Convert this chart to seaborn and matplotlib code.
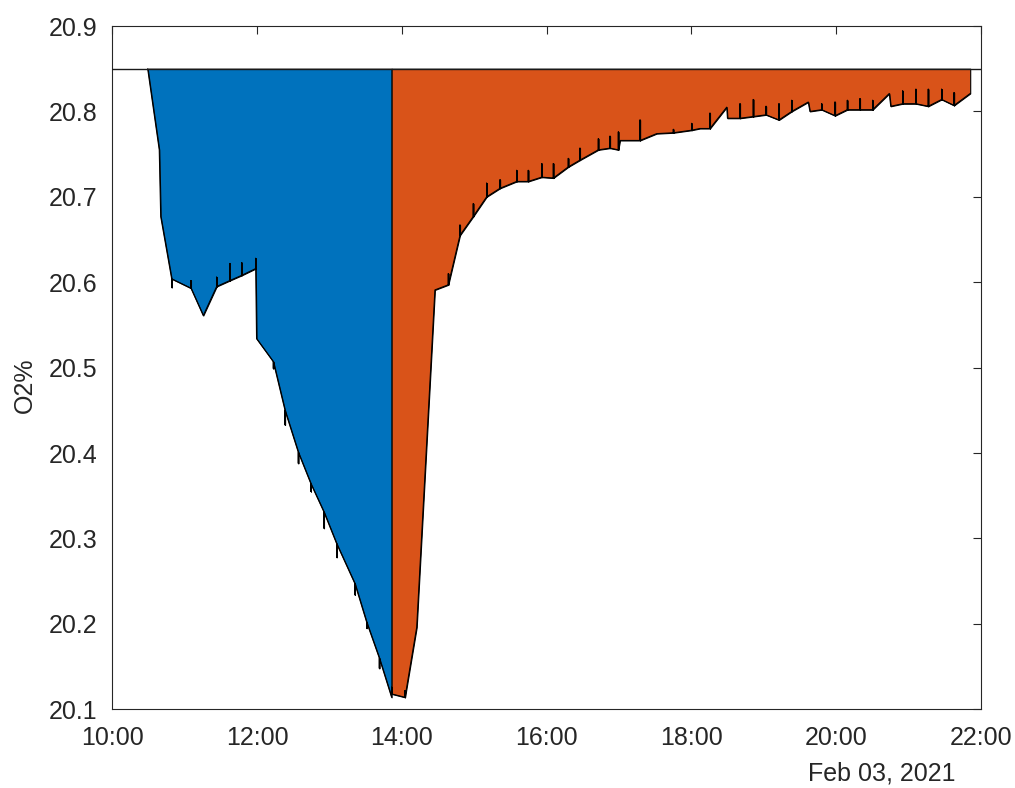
import numpy as np
import pandas as pd
import matplotlib
matplotlib.use("Agg")
import matplotlib.pyplot as plt
import matplotlib.dates as mdates
import seaborn as sns

# O2 readings, Feb 03 2021
DAY = "2021-02-03"
BASE_VALUE = 20.85

# first run (blue)
blue_times = ["10:29:12", "10:38:48", "10:40:00", "10:49:06", "11:05:06", "11:15:18",
              "11:26:24", "11:37:24", "11:47:06", "11:58:48", "11:59:30", "12:13:24",
              "12:23:06", "12:34:06", "12:44:36", "12:55:24", "13:05:54", "13:21:06",
              "13:30:48", "13:41:18", "13:51:30"]
blue_values = [20.850, 20.755, 20.677, 20.604, 20.593, 20.561,
               20.595, 20.602, 20.608, 20.616, 20.534, 20.507,
               20.450, 20.401, 20.364, 20.331, 20.294, 20.247,
               20.202, 20.160, 20.114]
blue_spikes = [np.nan, np.nan, np.nan, 20.594, 20.602, np.nan,
               20.606, 20.622, 20.623, 20.628, np.nan, 20.499,
               20.433, 20.388, 20.355, 20.312, 20.278, 20.234,
               20.195, 20.148, np.nan]

# second run (orange)
orange_times = ["13:51:30", "14:02:36", "14:12:18", "14:24:42", "14:27:24", "14:38:30",
                "14:48:12", "14:59:12", "15:10:18", "15:21:24", "15:35:12", "15:44:48",
                "15:55:54", "16:05:36", "16:18:00", "16:27:42", "16:42:54", "16:52:36",
                "16:59:30", "17:00:54", "17:17:30", "17:31:18", "17:45:06", "18:00:18",
                "18:07:12", "18:15:30", "18:29:24", "18:30:00", "18:40:24", "18:51:24",
                "19:02:00", "19:12:42", "19:23:18", "19:37:00", "19:38:24", "19:48:06",
                "19:59:12", "20:09:24", "20:19:54", "20:30:24", "20:44:12", "20:45:24",
                "20:55:18", "21:06:18", "21:16:30", "21:27:36", "21:37:54", "21:51:18"]
orange_values = [20.118, 20.114, 20.196, 20.520, 20.591, 20.597,
                 20.655, 20.677, 20.700, 20.710, 20.718, 20.718,
                 20.723, 20.722, 20.735, 20.743, 20.755, 20.757,
                 20.755, 20.766, 20.766, 20.774, 20.775, 20.778,
                 20.780, 20.780, 20.805, 20.792, 20.792, 20.794,
                 20.796, 20.790, 20.800, 20.811, 20.800, 20.802,
                 20.795, 20.802, 20.802, 20.802, 20.821, 20.806,
                 20.809, 20.809, 20.806, 20.814, 20.807, 20.821]
orange_spikes = [20.126, 20.122, np.nan, np.nan, np.nan, 20.610,
                 20.667, 20.692, 20.716, 20.720, 20.731, 20.731,
                 20.739, 20.739, 20.745, 20.757, 20.768, 20.771,
                 20.776, np.nan, 20.790, np.nan, 20.779, 20.786,
                 np.nan, 20.798, np.nan, np.nan, 20.809, 20.814,
                 20.806, 20.809, 20.813, np.nan, np.nan, 20.809,
                 20.811, 20.813, 20.815, 20.813, np.nan, np.nan,
                 20.824, 20.826, 20.826, 20.826, 20.822, np.nan]

y_ticks = [20.1, 20.2, 20.3, 20.4, 20.5, 20.6, 20.7, 20.8, 20.9]
x_ticks = ["10:00", "12:00", "14:00", "16:00", "18:00", "20:00", "22:00"]


def build_trace(times, values, spikes):
    """Turn readings into a polyline, single-sample glitches become vertical ticks."""
    xs, ys = [], []
    for t, v, s in zip(times, values, spikes):
        ts = pd.Timestamp(f"{DAY} {t}")
        xs.append(ts)
        ys.append(v)
        if not np.isnan(s):
            xs += [ts, ts]
            ys += [s, v]
    return pd.DataFrame({"time": xs, "o2": ys})


sns.set_style("white")
plt.rcParams["font.family"] = ["Liberation Sans", "DejaVu Sans"]
TXT = "#262626"
FS = 18

fig = plt.figure(figsize=(10.15, 7.88), dpi=100)
ax = fig.add_axes([0.1108, 0.0999, 0.8554, 0.8671])

traces = [(build_trace(blue_times, blue_values, blue_spikes), "#0072BD"),
          (build_trace(orange_times, orange_values, orange_spikes), "#D95319")]

for df, color in traces:
    ax.fill_between(df["time"], df["o2"], BASE_VALUE, facecolor=color,
                    edgecolor="black", linewidth=0.8, zorder=2)
    sns.lineplot(data=df, x="time", y="o2", estimator=None, sort=False,
                 color="black", linewidth=0.8, ax=ax, zorder=3)

ax.axhline(BASE_VALUE, color="#1a1a1a", linewidth=1.0, zorder=4)

ax.set_xlim(pd.Timestamp(f"{DAY} 10:00"), pd.Timestamp(f"{DAY} 22:00"))
ax.set_ylim(20.1, 20.9)
ax.set_xticks([pd.Timestamp(f"{DAY} {t}") for t in x_ticks])
ax.xaxis.set_major_formatter(mdates.DateFormatter("%H:%M"))
ax.set_yticks(y_ticks)
ax.set_yticklabels([f"{v:.1f}" for v in y_ticks])
ax.set_xlabel("")
ax.set_ylabel("")

ax.tick_params(axis="both", direction="in", length=5.5, width=0.8, color=TXT,
               labelcolor=TXT, labelsize=FS, top=True, right=True)
ax.tick_params(axis="x", pad=12)
ax.tick_params(axis="y", pad=11)
for sp in ax.spines.values():
    sp.set_visible(True)
    sp.set_color(TXT)
    sp.set_linewidth(0.8)

fig.text(25 / 1015, 1 - 385 / 788, "O2%", rotation=90, ha="center", va="center",
         fontsize=FS, color=TXT)
fig.text(955 / 1015, 1 - 773 / 788, "Feb 03, 2021", ha="right", va="center",
         fontsize=FS, color=TXT)

fig.savefig("out.png", dpi=100)
